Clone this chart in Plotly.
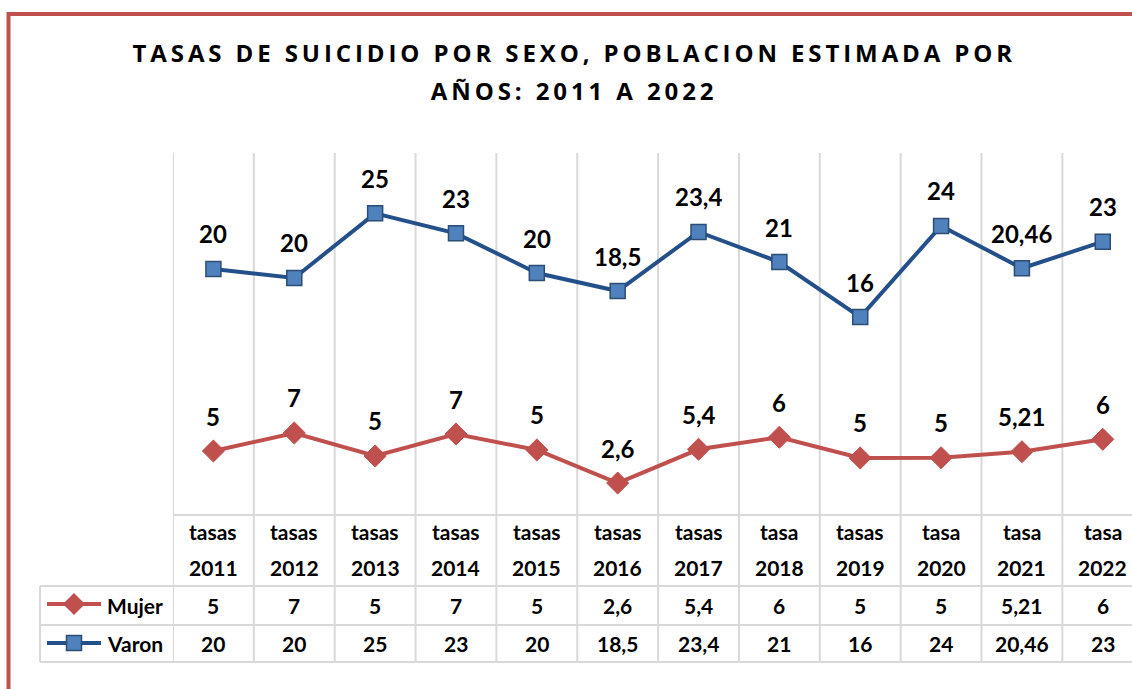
import plotly.graph_objects as go

# ---------------- data ----------------
categories = ["tasas<br>2011", "tasas<br>2012", "tasas<br>2013", "tasas<br>2014", "tasas<br>2015",
              "tasas<br>2016", "tasas<br>2017", "tasa<br>2018", "tasas<br>2019", "tasa<br>2020",
              "tasa<br>2021", "tasa<br>2022"]
# plotted positions
mujer_values = [4.41, 5.97, 3.98, 5.88, 4.50, 1.64, 4.56, 5.60, 3.81, 3.83, 4.35, 5.42]
varon_values = [20.16, 19.38, 24.97, 23.24, 19.81, 18.25, 23.36, 20.76, 16.00, 23.88, 20.22, 22.52]
# labels as displayed in the chart / data table
mujer_labels = ["5", "7", "5", "7", "5", "2,6", "5,4", "6", "5", "5", "5,21", "6"]
varon_labels = ["20", "20", "25", "23", "20", "18,5", "23,4", "21", "16", "24", "20,46", "23"]
series_names = ["Mujer", "Varon"]
title_lines = ["TASAS DE SUICIDIO POR SEXO, POBLACION ESTIMADA POR", "AÑOS: 2011 A 2022"]

# ---------------- styling ----------------
W, H = 1132, 689
RED = "#C0504D"
BLUE_LINE = "#23508A"
BLUE_FILL = "#4F81BD"
BLUE_EDGE = "#2C4D75"
GRID = "#D9D9D9"
FONT = "Lato"

def py(px):  # pixel row -> paper y
    return 1 - px / H

def px_x(px):
    return px / W

n = len(categories)
xi = list(range(n))
col_w = 80.85
left_px = 173
x_end = (W - left_px) / col_w - 0.5

fig = go.Figure()

fig.add_trace(go.Scatter(
    x=xi, y=varon_values, mode="lines+markers", name=series_names[1],
    line=dict(color=BLUE_LINE, width=4),
    marker=dict(symbol="square", size=15, color=BLUE_FILL, line=dict(color=BLUE_EDGE, width=1.5)),
    showlegend=False, hoverinfo="skip"))
fig.add_trace(go.Scatter(
    x=xi, y=mujer_values, mode="lines+markers", name=series_names[0],
    line=dict(color=RED, width=4),
    marker=dict(symbol="diamond", size=17, color=RED, line=dict(color=RED, width=1)),
    showlegend=False, hoverinfo="skip"))

# legend keys inside the data table (pixel overlay axes)
fig.add_trace(go.Scatter(x=[47, 101], y=[604, 604], xaxis="x2", yaxis="y2", mode="lines",
                         line=dict(color=RED, width=4), showlegend=False, hoverinfo="skip"))
fig.add_trace(go.Scatter(x=[74], y=[604], xaxis="x2", yaxis="y2", mode="markers",
                         marker=dict(symbol="diamond", size=17, color=RED),
                         showlegend=False, hoverinfo="skip"))
fig.add_trace(go.Scatter(x=[47, 101], y=[643, 643], xaxis="x2", yaxis="y2", mode="lines",
                         line=dict(color=BLUE_LINE, width=4), showlegend=False, hoverinfo="skip"))
fig.add_trace(go.Scatter(x=[74], y=[643], xaxis="x2", yaxis="y2", mode="markers",
                         marker=dict(symbol="square", size=15, color=BLUE_FILL,
                                     line=dict(color=BLUE_EDGE, width=1.5)),
                         showlegend=False, hoverinfo="skip"))

annotations = []
lfont = dict(family=FONT, size=24, color="black", weight="bold")
# data labels
for i in xi:
    annotations.append(dict(x=i, y=varon_values[i], xref="x", yref="y", text=varon_labels[i],
                            showarrow=False, yshift=35, xanchor="center", yanchor="middle", font=lfont))
    annotations.append(dict(x=i, y=mujer_values[i], xref="x", yref="y", text=mujer_labels[i],
                            showarrow=False, yshift=35, xanchor="center", yanchor="middle", font=lfont))

# table header and cells
tfont = dict(family=FONT, size=21, color="black", weight="bold")
def cell(x, ypx, text, xref="x", xanchor="center"):
    annotations.append(dict(x=x, y=py(ypx), xref=xref, yref="paper", text=text, showarrow=False,
                            xanchor=xanchor, yanchor="middle", font=tfont))

for i, c in enumerate(categories):
    top, bottom = c.split("<br>")
    cell(i, 531, top)
    cell(i, 567, bottom)
    cell(i, 605, mujer_labels[i])
    cell(i, 643, varon_labels[i])

cell(px_x(105), 605, series_names[0], xref="paper", xanchor="left")
cell(px_x(105), 643, series_names[1], xref="paper", xanchor="left")

# title
tt = dict(family="Open Sans", size=24, color="black", weight="bold")
annotations.append(dict(x=px_x(574), y=py(53), xref="paper", yref="paper", text=title_lines[0],
                        showarrow=False, xanchor="center", yanchor="middle", font=tt))
annotations.append(dict(x=px_x(574), y=py(90), xref="paper", yref="paper", text=title_lines[1],
                        showarrow=False, xanchor="center", yanchor="middle", font=tt))

shapes = []
# vertical grid/table lines at column boundaries
for k in range(n):
    shapes.append(dict(type="line", xref="x", yref="paper", x0=k - 0.5, x1=k - 0.5,
                       y0=py(153), y1=py(662), line=dict(color=GRID, width=2), layer="below"))
# table horizontal lines
shapes.append(dict(type="line", xref="paper", yref="paper", x0=px_x(left_px), x1=1,
                   y0=py(515), y1=py(515), line=dict(color=GRID, width=2), layer="below"))
for yy in (586, 625, 662):
    shapes.append(dict(type="line", xref="paper", yref="paper", x0=px_x(40), x1=1,
                       y0=py(yy), y1=py(yy), line=dict(color=GRID, width=2), layer="below"))
shapes.append(dict(type="line", xref="paper", yref="paper", x0=px_x(40), x1=px_x(40),
                   y0=py(586), y1=py(662), line=dict(color=GRID, width=2), layer="below"))
# red chart frame (left + top)
shapes.append(dict(type="path", xref="paper", yref="paper",
                   path=f"M {px_x(8.5)} 0 L {px_x(8.5)} {py(14)} L 1 {py(14)}",
                   line=dict(color=RED, width=4)))

ymin = (502 - 515) / 11.56
ymax = (502 - 153) / 11.56

fig.update_layout(
    width=W, height=H, margin=dict(l=0, r=0, t=0, b=0),
    paper_bgcolor="white", plot_bgcolor="rgba(0,0,0,0)",
    xaxis=dict(domain=[left_px / W, 1], range=[-0.5, x_end], showgrid=False, zeroline=False,
               showticklabels=False, ticks="", showline=False, fixedrange=True),
    yaxis=dict(domain=[py(515), py(153)], range=[ymin, ymax], showgrid=False, zeroline=False,
               showticklabels=False, ticks="", showline=False, fixedrange=True),
    xaxis2=dict(domain=[0, 1], range=[0, W], visible=False, anchor="y2", fixedrange=True),
    yaxis2=dict(domain=[0, 1], range=[H, 0], visible=False, anchor="x2", fixedrange=True),
    annotations=annotations, shapes=shapes, showlegend=False,
)

post = """
document.body.style.margin = '0';
document.body.style.overflow = 'hidden';
function spaceTitle(){
  document.querySelectorAll('.annotation-text').forEach(function(t){
    var s = t.textContent || '';
    if (s.indexOf('TASAS DE') === 0 || s.indexOf('AÑOS:') === 0) { t.style.letterSpacing = '3.9px'; }
  });
}
spaceTitle();
setTimeout(spaceTitle, 50);
setTimeout(spaceTitle, 300);
"""
fig.write_html("out.html", post_script=post, config={"displayModeBar": False})
